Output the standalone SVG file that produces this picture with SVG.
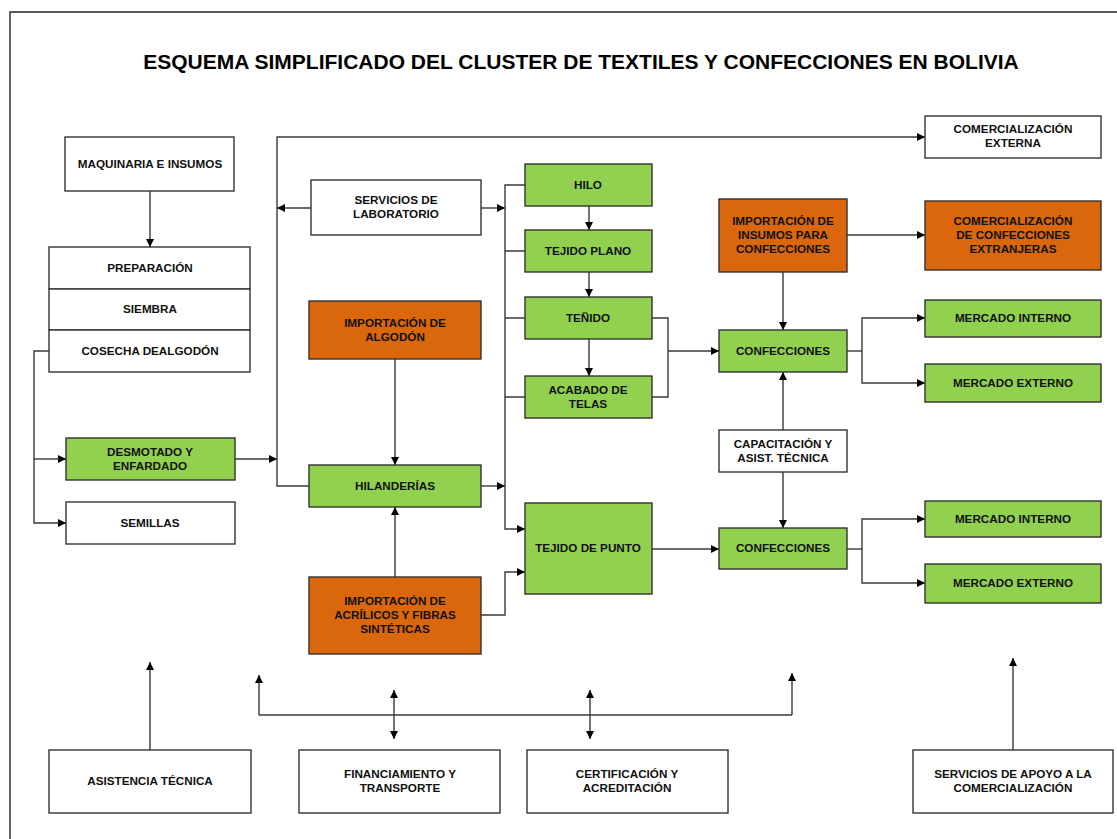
<svg xmlns="http://www.w3.org/2000/svg" width="1117" height="839" viewBox="0 0 1117 839">
<defs>
<marker id="ah" viewBox="0 0 10 10" refX="10" refY="5" markerWidth="8" markerHeight="8" markerUnits="userSpaceOnUse" orient="auto-start-reverse">
<path d="M0,0 L10,5 L0,10 z" fill="#000"/>
</marker>
<style>
.b{stroke:#333;stroke-width:1.4;}
.w{fill:#fff;}
.g{fill:#92D050;}
.o{fill:#DA670B;}
text{font-family:"Liberation Sans",Arial,sans-serif;font-weight:bold;font-size:11.7px;fill:#111;text-anchor:middle;}
.t{font-size:21px;fill:#000;}
.c path{fill:none;stroke:#3a3a3a;stroke-width:1.4;}
.a{marker-end:url(#ah);}
.d{marker-start:url(#ah);marker-end:url(#ah);}
</style>
</defs>
<rect width="1117" height="839" fill="#fff"/>
<path d="M10,839 V12 H1117" fill="none" stroke="#222" stroke-width="1.4"/>
<text class="t" x="581" y="69">ESQUEMA SIMPLIFICADO DEL CLUSTER DE TEXTILES Y CONFECCIONES EN BOLIVIA</text>

<g class="c">
<path class="a" d="M150,191 V247"/>
<path class="a" d="M49,351 H34 V523 H66"/>
<path class="a" d="M34,459 H66"/>
<path class="a" d="M235,459 H277"/>
<path class="a" d="M309,486 H277 V137 H925"/>
<path class="a" d="M311,208 H277"/>
<path class="a" d="M481,208 H505"/>
<path class="a" d="M525,185 H505 V529 H525"/>
<path d="M505,251 H525 M505,318 H525 M505,397 H525"/>
<path class="a" d="M589,206 V230"/>
<path class="a" d="M589,272 V297"/>
<path class="a" d="M589,339 V376"/>
<path d="M652,318 H668 V397 H652"/>
<path class="a" d="M668,351 H719"/>
<path class="a" d="M395,359 V465"/>
<path class="a" d="M481,486 H505"/>
<path class="a" d="M395,577 V507"/>
<path class="a" d="M481,615 H505 V572 H525"/>
<path class="a" d="M652,549 H719"/>
<path class="a" d="M847,235 H925"/>
<path class="a" d="M783,272 V330"/>
<path d="M847,351 H862"/>
<path class="a" d="M862,351 V318 H925"/>
<path class="a" d="M862,351 V383 H925"/>
<path class="a" d="M783,430 V372"/>
<path class="a" d="M783,472 V528"/>
<path d="M847,549 H862"/>
<path class="a" d="M862,549 V519 H925"/>
<path class="a" d="M862,549 V583 H925"/>
<path class="a" d="M150,750 V662"/>
<path class="a" d="M259,715 V675"/>
<path class="a" d="M792,715 V673"/>
<path d="M259,715 H792"/>
<path class="d" d="M394,690 V739"/>
<path class="d" d="M590,690 V739"/>
<path class="a" d="M1013,750 V658"/>
</g>

<g id="maquinaria"><rect class="b w" x="65" y="137" width="169" height="54"/><text x="150" y="168">MAQUINARIA E INSUMOS</text></g>
<g id="preparacion"><rect class="b w" x="49" y="247" width="201" height="42"/><text x="150" y="272">PREPARACIÓN</text></g>
<g id="siembra"><rect class="b w" x="49" y="289" width="201" height="41"/><text x="150" y="313">SIEMBRA</text></g>
<g id="cosecha"><rect class="b w" x="49" y="330" width="201" height="42"/><text x="150" y="355">COSECHA DEALGODÓN</text></g>
<g id="desmotado"><rect class="b g" x="66" y="438" width="169" height="42"/><text x="150" y="456">DESMOTADO Y</text><text x="150" y="470">ENFARDADO</text></g>
<g id="semillas"><rect class="b w" x="66" y="502" width="169" height="42"/><text x="150" y="527">SEMILLAS</text></g>
<g id="laboratorio"><rect class="b w" x="311" y="180" width="170" height="55"/><text x="396" y="204">SERVICIOS DE</text><text x="396" y="218">LABORATORIO</text></g>
<g id="imp-algodon"><rect class="b o" x="309" y="301" width="172" height="58"/><text x="395" y="327">IMPORTACIÓN DE</text><text x="395" y="341">ALGODÓN</text></g>
<g id="hilanderias"><rect class="b g" x="309" y="465" width="172" height="42"/><text x="395" y="490">HILANDERÍAS</text></g>
<g id="imp-acrilicos"><rect class="b o" x="309" y="577" width="172" height="77"/><text x="395" y="605">IMPORTACIÓN DE</text><text x="395" y="619">ACRÍLICOS Y FIBRAS</text><text x="395" y="633">SINTÉTICAS</text></g>
<g id="hilo"><rect class="b g" x="525" y="164" width="127" height="42"/><text x="588" y="189">HILO</text></g>
<g id="tejido-plano"><rect class="b g" x="525" y="230" width="127" height="42"/><text x="588" y="255">TEJIDO PLANO</text></g>
<g id="tenido"><rect class="b g" x="525" y="297" width="127" height="42"/><text x="588" y="322">TEÑIDO</text></g>
<g id="acabado"><rect class="b g" x="525" y="376" width="127" height="42"/><text x="588" y="394">ACABADO DE</text><text x="588" y="408">TELAS</text></g>
<g id="tejido-punto"><rect class="b g" x="525" y="503" width="127" height="91"/><text x="588" y="552">TEJIDO DE PUNTO</text></g>
<g id="imp-insumos"><rect class="b o" x="719" y="199" width="128" height="73"/><text x="783" y="225">IMPORTACIÓN DE</text><text x="783" y="239">INSUMOS PARA</text><text x="783" y="253">CONFECCIONES</text></g>
<g id="confecciones1"><rect class="b g" x="719" y="330" width="128" height="42"/><text x="783" y="355">CONFECCIONES</text></g>
<g id="capacitacion"><rect class="b w" x="719" y="430" width="128" height="42"/><text x="783" y="448">CAPACITACIÓN Y</text><text x="783" y="462">ASIST. TÉCNICA</text></g>
<g id="confecciones2"><rect class="b g" x="719" y="528" width="128" height="41"/><text x="783" y="552">CONFECCIONES</text></g>
<g id="com-externa"><rect class="b w" x="925" y="116" width="176" height="42"/><text x="1013" y="133">COMERCIALIZACIÓN</text><text x="1013" y="147">EXTERNA</text></g>
<g id="com-extranjeras"><rect class="b o" x="925" y="201" width="176" height="69"/><text x="1013" y="225">COMERCIALIZACIÓN</text><text x="1013" y="239">DE CONFECCIONES</text><text x="1013" y="253">EXTRANJERAS</text></g>
<g id="mercado-interno1"><rect class="b g" x="925" y="300" width="176" height="37"/><text x="1013" y="322">MERCADO INTERNO</text></g>
<g id="mercado-externo1"><rect class="b g" x="925" y="364" width="176" height="38"/><text x="1013" y="387">MERCADO EXTERNO</text></g>
<g id="mercado-interno2"><rect class="b g" x="925" y="501" width="176" height="36"/><text x="1013" y="523">MERCADO INTERNO</text></g>
<g id="mercado-externo2"><rect class="b g" x="925" y="564" width="176" height="39"/><text x="1013" y="587">MERCADO EXTERNO</text></g>
<g id="asistencia"><rect class="b w" x="49" y="750" width="202" height="63"/><text x="150" y="785">ASISTENCIA TÉCNICA</text></g>
<g id="financiamiento"><rect class="b w" x="299" y="750" width="201" height="63"/><text x="400" y="778">FINANCIAMIENTO Y</text><text x="400" y="792">TRANSPORTE</text></g>
<g id="certificacion"><rect class="b w" x="527" y="750" width="201" height="63"/><text x="627" y="778">CERTIFICACIÓN Y</text><text x="627" y="792">ACREDITACIÓN</text></g>
<g id="servicios-apoyo"><rect class="b w" x="913" y="750" width="200" height="63"/><text x="1013" y="778">SERVICIOS DE APOYO A LA</text><text x="1013" y="792">COMERCIALIZACIÓN</text></g>
</svg>
